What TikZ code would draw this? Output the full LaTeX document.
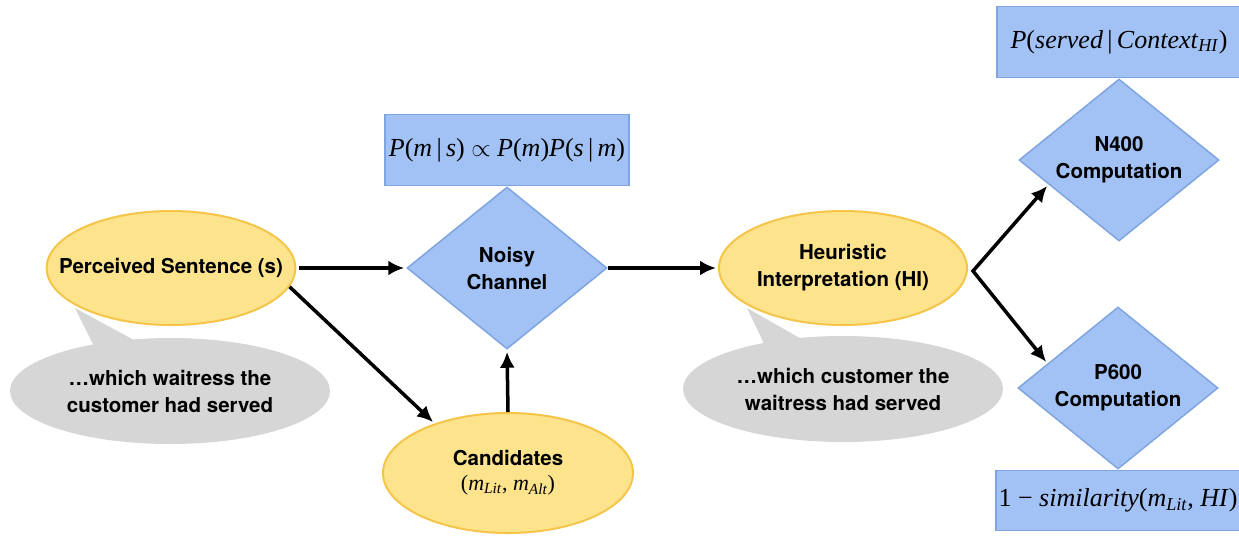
\documentclass[tikz,border=0pt]{standalone}
\usepackage{fontspec}
\setsansfont{TeX Gyre Heros}
\newfontfamily\tms{Liberation Serif}
\usetikzlibrary{shapes.geometric,arrows.meta,calc}
\definecolor{ylw}{HTML}{FCE38C}
\definecolor{ylwd}{HTML}{F5C54A}
\definecolor{blu}{HTML}{A2C2F5}
\definecolor{blud}{HTML}{7FA5E0}
\definecolor{gry}{HTML}{D6D6D6}
\newcommand{\iv}[1]{\textit{#1}}
\begin{document}
\begin{tikzpicture}[x=1pt,y=-1pt,
 lbl/.style={font=\sffamily\bfseries\fontsize{20.5}{27}\selectfont, align=center, text=black},
 yell/.style={lbl, ellipse, fill=ylw, draw=ylwd, line width=2pt, inner sep=0pt, minimum width=248pt, minimum height=114pt},
 gell/.style={lbl, ellipse, fill=gry, inner sep=0pt, minimum width=320pt, minimum height=106pt},
 bdia/.style={lbl, diamond, fill=blu, draw=blud, line width=1.5pt, inner sep=0pt, shape aspect=1.23, minimum width=200pt, minimum height=162pt},
 fbox/.style={rectangle, fill=blu, draw=blud, line width=1.5pt, inner sep=0pt, minimum width=244pt, font=\tms\fontsize{26}{30}\selectfont},
 arr/.style={line width=3.5pt, shorten >=2pt, -{Latex[length=16pt,width=15pt]}},
]
\useasboundingbox (0,0) rectangle (1239,539);

% speech bubbles
\fill[gry] (75,308) -- (97,352) -- (145,346) -- cycle;
\node[gell] (b1) at (170,391) {…which waitress the\\customer had served};
\fill[gry] (747,308) -- (767,350) -- (812,345) -- cycle;
\node[gell] (b2) at (843,389) {…which customer the\\waitress had served};

% main nodes
\node[yell, inner xsep=-24pt] (ps) at (171,268) {Perceived Sentence (s)};
\node[bdia] (nc) at (507,268) {Noisy\\Channel};
\node[yell, minimum width=250pt, minimum height=120pt] (cand) at (508,473)
  {Candidates\\[-2pt]{\tms\mdseries\fontsize{22}{26}\selectfont(\iv{m}\textsubscript{\iv{Lit}}, \iv{m}\textsubscript{\iv{Alt}})}};
\node[yell, inner xsep=-10pt] (hi) at (843,268) {Heuristic\\Interpretation (HI)};
\node[bdia] (n4) at (1119,160) {N400\\Computation};
\node[bdia] (p6) at (1118,388) {P600\\Computation};

% formula boxes
\node[fbox, minimum height=71pt, anchor=south] (f1) at (nc.north)
  {\iv{P}(\iv{m}\,|\,\iv{s}) $\propto$ \iv{P}(\iv{m})\iv{P}(\iv{s}\,|\,\iv{m})};
\node[fbox, minimum height=71pt, anchor=south] (f2) at (n4.north)
  {\iv{P}(\iv{served}\,|\,\iv{Context}\textsubscript{\iv{HI}})};
\node[fbox, minimum height=60pt, anchor=north] (f3) at (p6.south)
  {1 − \iv{similarity}(\iv{m}\textsubscript{\iv{Lit}}, \iv{HI})};

% connectors
\draw[arr] ([xshift=3pt]ps.east) -- (nc.west);
\draw[arr] (ps.-9) -- (cand.146);
\draw[arr] (cand.north) -- (nc.south);
\draw[arr] (nc.east) -- (hi.west);
\coordinate (j) at (973,271);
\draw[line width=3.5pt, shorten <=2pt, shorten >=2pt,
  {Latex[length=16pt,width=15pt]}-{Latex[length=16pt,width=15pt]}]
  ($(n4.west)!0.3!(n4.south)$) -- (j) -- ($(p6.west)!0.3!(p6.north)$);
\end{tikzpicture}
\end{document}
